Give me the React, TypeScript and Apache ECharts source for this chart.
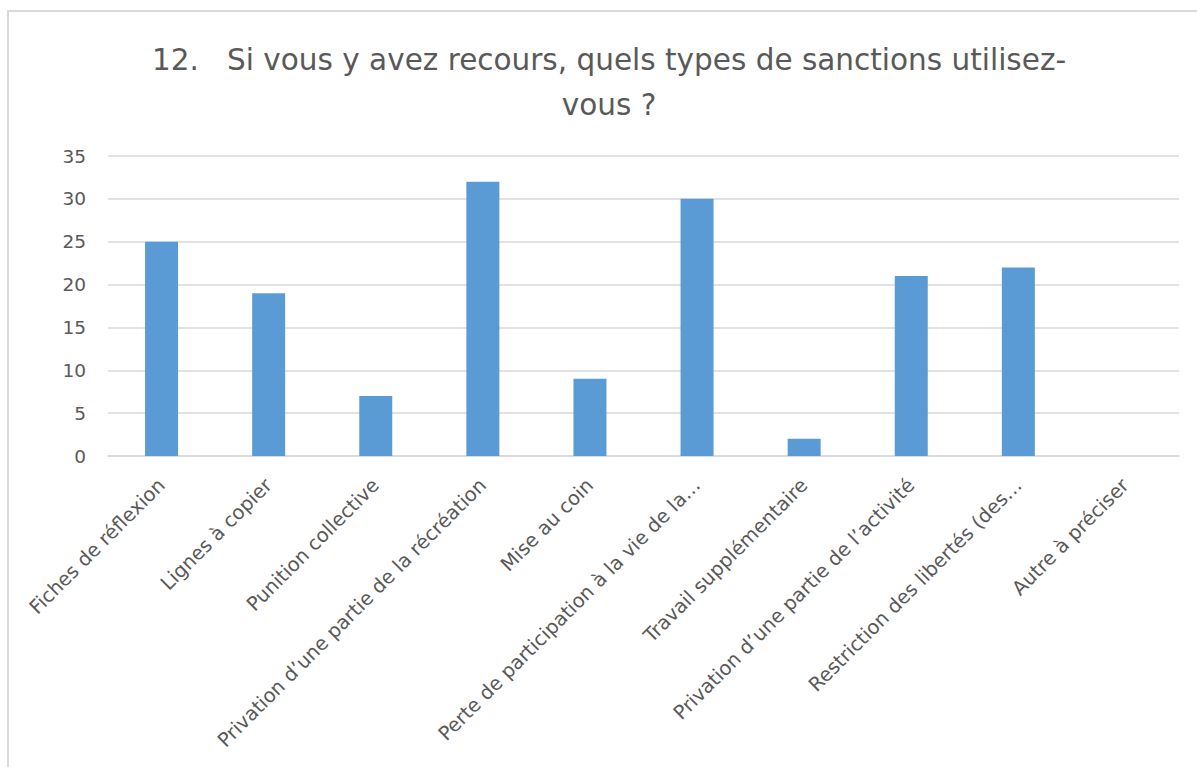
import React, { useEffect, useRef } from "react";
import * as echarts from "echarts";

const categories = [
  "Fiches de réflexion",
  "Lignes à copier",
  "Punition collective",
  "Privation d’une partie de la récréation",
  "Mise au coin",
  "Perte de participation à la vie de la…",
  "Travail supplémentaire",
  "Privation d’une partie de l’activité",
  "Restriction des libertés (des…",
  "Autre à préciser",
];
const values = [25, 19, 7, 32, 9, 30, 2, 21, 22, 0];
const titleText = "12.   Si vous y avez recours, quels types de sanctions utilisez-\nvous ?";

const FONT = "DejaVu Sans";
const TEXT = "#595959";

export default function App() {
  const ref = useRef<HTMLDivElement>(null);
  useEffect(() => {
    if (!ref.current) return;
    const chart = echarts.init(ref.current, null, { renderer: "svg" });
    chart.setOption({
      animation: false,
      backgroundColor: "#ffffff",
      textStyle: { fontFamily: FONT },
      title: {
        text: titleText,
        left: 604,
        top: 32,
        textAlign: "center",
        textStyle: {
          fontFamily: FONT,
          fontSize: 29.5,
          lineHeight: 45,
          fontWeight: "normal",
          color: TEXT,
        },
      },
      graphic: [
        {
          type: "rect",
          shape: { x: 8, y: 11, width: 1300, height: 900 },
          style: { fill: "none", stroke: "#d9d9d9", lineWidth: 2 },
          silent: true,
        },
      ],
      grid: { left: 108, right: 18, top: 156, bottom: 311, containLabel: false },
      xAxis: {
        type: "category",
        data: categories,
        axisLine: { lineStyle: { color: "#d9d9d9", width: 1.5 } },
        axisTick: { show: false },
        axisLabel: {
          interval: 0,
          rotate: 45,
          fontSize: 19.5,
          color: TEXT,
          fontFamily: FONT,
          margin: 26,
        },
      },
      yAxis: {
        type: "value",
        min: 0,
        max: 35,
        interval: 5,
        axisLine: { show: false },
        axisTick: { show: false },
        axisLabel: { fontSize: 18.5, color: TEXT, fontFamily: FONT, margin: 22 },
        splitLine: { lineStyle: { color: "#d9d9d9", width: 1.5 } },
      },
      series: [
        {
          type: "bar",
          data: values,
          barWidth: 33,
          itemStyle: { color: "#5b9bd5" },
        },
      ],
    });
    return () => chart.dispose();
  }, []);
  return (
    <div
      ref={ref}
      style={{ position: "fixed", left: 0, top: 0, width: 1197, height: 767, background: "#fff" }}
    />
  );
}
